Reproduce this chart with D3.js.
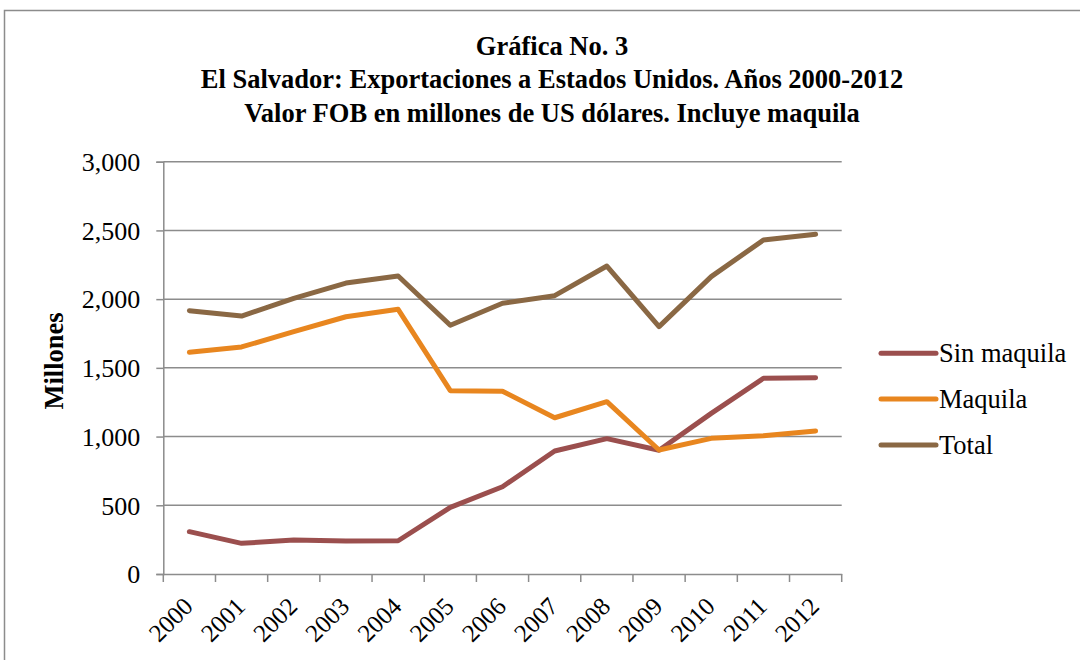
<!DOCTYPE html>
<html><head><meta charset="utf-8">
<script src="https://cdn.jsdelivr.net/npm/d3@7"></script>
<style>body{margin:0;background:#fff}svg{display:block}</style>
</head><body>
<svg id="c" width="1080" height="660"></svg>
<script>
const years = ["2000","2001","2002","2003","2004","2005","2006","2007","2008","2009","2010","2011","2012"];
const sinMaquila = [308,223,247,240,242,485,635,895,985,900,1169,1424,1428];
const maquila = [1613,1652,1763,1872,1926,1334,1330,1137,1254,902,987,1006,1041];
const total = [1916,1877,2005,2117,2168,1810,1970,2025,2241,1800,2164,2430,2472];
const yTicks = [0,500,1000,1500,2000,2500,3000];
const seriesNames = ["Sin maquila","Maquila","Total"];
const seriesColors = ["#9B4F4E","#E8861F","#8A6844"];
const titleLines = ["Gráfica No. 3","El Salvador: Exportaciones a Estados Unidos. Años 2000-2012","Valor FOB en millones de US dólares. Incluye maquila"];

(function(){
const svg = d3.select("#c");
const font = "'Liberation Serif','Times New Roman',serif";
const gridColor = "#8c8c8c";

svg.append("rect").attr("x",4.5).attr("y",10.5).attr("width",1200).attr("height",800)
  .attr("fill","none").attr("stroke","#8c8c8c").attr("stroke-width",1.5);

const pLeft = 163.3, pRight = 841.7, pTop = 161.7, pBottom = 574;
const x = d3.scaleBand().domain(years).range([pLeft,pRight]).padding(0);
const y = d3.scaleLinear().domain([0,3000]).range([pBottom,pTop]);

svg.append("g").selectAll("line").data(yTicks.filter(d=>d>0)).join("line")
  .attr("x1",pLeft).attr("x2",pRight).attr("y1",d=>y(d)).attr("y2",d=>y(d))
  .attr("stroke",gridColor).attr("stroke-width",1.5);

const ya = svg.append("g").attr("transform",`translate(${pLeft},0)`)
  .call(d3.axisLeft(y).tickValues(yTicks).tickSize(7).tickPadding(16).tickFormat(d3.format(",")));
ya.select(".domain").attr("stroke",gridColor).attr("stroke-width",1.5);
ya.selectAll(".tick line").attr("stroke",gridColor).attr("stroke-width",1.5);
ya.selectAll("text").attr("font-family",font).attr("font-size",26).attr("fill","#000").attr("dy","0.34em");

const xa = svg.append("g").attr("transform",`translate(0,${pBottom})`)
  .call(d3.axisBottom(x).tickSize(0).tickFormat(d=>d));
xa.select(".domain").attr("stroke",gridColor).attr("stroke-width",1.5);
xa.selectAll(".tick text").attr("font-family",font).attr("font-size",25).attr("fill","#000")
  .attr("text-anchor","end").attr("dy",0).attr("y",0)
  .attr("transform","translate(5,34) rotate(-45)");
const bounds = years.map(d=>x(d)).concat([pRight]);
svg.append("g").selectAll("line").data(bounds).join("line")
  .attr("x1",d=>d).attr("x2",d=>d).attr("y1",pBottom).attr("y2",pBottom+8)
  .attr("stroke",gridColor).attr("stroke-width",1.5);

const data = [sinMaquila, maquila, total];
const line = d3.line().x((d,i)=>x(years[i])+x.bandwidth()/2).y(d=>y(d));
svg.append("g").selectAll("path").data(data).join("path")
  .attr("d",line).attr("fill","none").attr("stroke",(d,i)=>seriesColors[i])
  .attr("stroke-width",5).attr("stroke-linejoin","round").attr("stroke-linecap","round");

const titleY = [55, 87.5, 121.5];
svg.append("g").selectAll("text").data(titleLines).join("text")
  .attr("x",552).attr("y",(d,i)=>titleY[i]).attr("text-anchor","middle")
  .attr("font-family",font).attr("font-weight","bold").attr("font-size",26.5).text(d=>d);

svg.append("text").attr("transform","translate(63,361) rotate(-90)").attr("text-anchor","middle")
  .attr("font-family",font).attr("font-weight","bold").attr("font-size",26.5).text("Millones");

const lg = svg.append("g").selectAll("g").data(seriesNames).join("g")
  .attr("transform",(d,i)=>`translate(0,${353.3+i*45.8})`);
lg.append("line").attr("x1",881).attr("x2",936).attr("y1",0).attr("y2",0)
  .attr("stroke",(d,i)=>seriesColors[i]).attr("stroke-width",5).attr("stroke-linecap","round");
lg.append("text").attr("x",939).attr("y",9).attr("font-family",font).attr("font-size",26.5).text(d=>d);
})();
</script>
</body></html>
